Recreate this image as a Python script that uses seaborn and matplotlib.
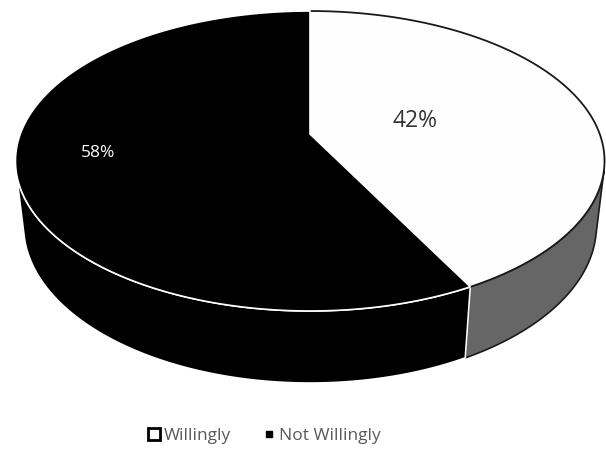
import numpy as np
import matplotlib
matplotlib.use("Agg")
import matplotlib.pyplot as plt
import seaborn as sns
from matplotlib.patches import Polygon
from matplotlib.lines import Line2D

# ---- data ----
categories = ["Willingly", "Not Willingly"]
values = [42.3, 57.7]
pct_labels = [f"{v:.0f}%" for v in values]

# ---- styles ----
top_colors = ["#FEFEFE", "#000000"]
side_colors = ["#666666", "#000000"]
edge_colors = ["#1a1a1a", "#FFFFFF"]
label_colors = ["#333333", "#FFFFFF"]
label_sizes = [16.5, 12.5]
label_pos = [(415, 121), (98, 153)]

sns.set_theme(style="white")
plt.rcParams['font.family'] = ['Open Sans', 'DejaVu Sans']

fig = plt.figure(figsize=(6.06, 4.49), dpi=100)
ax = fig.add_axes([0, 0, 1, 1])
ax.set_xlim(0, 606)
ax.set_ylim(449, 0)
ax.axis('off')

# ---- 3D perspective camera ----
phi = np.radians(30.06)
D = 4.808
f = 1393.0
t = 0.2627
cx, cy = 310.0, 134.0


def proj(x, y, z):
    depth = D + y * np.cos(phi) - z * np.sin(phi)
    sx = cx + f * x / depth
    sy = cy - f * (y * np.sin(phi) + z * np.cos(phi)) / depth
    return sx, sy


def arc(a0, a1, z, n=200):
    th = np.radians(np.linspace(a0, a1, n))
    return proj(np.cos(th), np.sin(th), np.full_like(th, z))


total = float(sum(values))
starts, ends = [], []
cur = 90.0
for v in values:
    starts.append(cur)
    cur = cur - v / total * 360.0
    ends.append(cur)

# silhouette angles of the cylinder side
s = -1.0 / (D * np.cos(phi))
sil_r = np.degrees(np.arcsin(s))          # ~ -13.9
sil_l = -180.0 - sil_r                    # ~ -166.1

# ---- sides (front visible part) ----
for i in range(len(values)):
    lo = max(ends[i], sil_l)
    hi = min(starts[i], sil_r)
    if hi <= lo:
        continue
    tx, ty = arc(hi, lo, 0.0)
    bx, by = arc(lo, hi, -t)
    pts = np.column_stack([np.concatenate([tx, bx]), np.concatenate([ty, by])])
    ax.add_patch(Polygon(pts, closed=True, facecolor=side_colors[i],
                         edgecolor=edge_colors[i], linewidth=1.2, zorder=2 + i))

# ---- top faces ----
c0 = proj(0.0, 0.0, 0.0)
for i in range(len(values)):
    ax_, ay_ = arc(starts[i], ends[i], 0.0)
    pts = np.column_stack([np.concatenate([[c0[0]], ax_]), np.concatenate([[c0[1]], ay_])])
    if i == 0:
        ax.add_patch(Polygon(pts, closed=True, facecolor=top_colors[i],
                             edgecolor='none', zorder=5))
        ax.plot(ax_, ay_, color=edge_colors[i], lw=1.3, zorder=6)
    else:
        ax.add_patch(Polygon(pts, closed=True, facecolor=top_colors[i],
                             edgecolor=edge_colors[i], linewidth=1.2, zorder=7))

# ---- data labels ----
for i in range(len(values)):
    ax.text(label_pos[i][0], label_pos[i][1], pct_labels[i], fontsize=label_sizes[i],
            color=label_colors[i], ha='center', va='center', zorder=10)

# ---- legend ----
handles = [
    Line2D([], [], linestyle='none', marker='s', markersize=9,
           markerfacecolor='white', markeredgecolor='black', markeredgewidth=2),
    Line2D([], [], linestyle='none', marker='s', markersize=5,
           markerfacecolor='black', markeredgecolor='black'),
]
leg = ax.legend(handles, categories, loc='center', bbox_to_anchor=(264 / 606, 1 - 436 / 449),
                bbox_transform=fig.transFigure, ncol=2, frameon=False, fontsize=12.5,
                labelcolor='#595959', handlelength=0.8, handletextpad=0.15, columnspacing=1.8)

fig.savefig("out.png", dpi=100, facecolor='white')
